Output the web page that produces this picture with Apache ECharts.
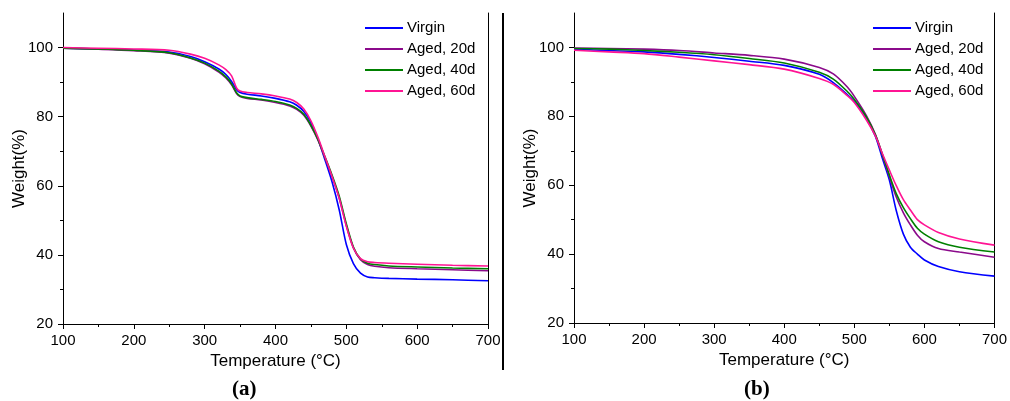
<!DOCTYPE html>
<html><head><meta charset="utf-8">
<script src="https://cdn.jsdelivr.net/npm/echarts@6/dist/echarts.min.js"></script>
<style>html,body{margin:0;padding:0;background:#fff}#c{width:1010px;height:401px}</style>
</head><body><div id="c"></div>
<script>
// ---- data (a) ----
const tempA = [100,150,200,250,280,300,320,330,338,345,350,360,380,400,420,430,440,450,460,470,480,490,500,510,520,530,540,560,600,650,700];
const virginA = [99.8,99.6,99.3,98.7,97.4,95.9,93.8,92.2,90.2,87.8,87.0,86.5,86.0,85.3,84.3,83.3,81.5,78.3,73.5,67.4,61.0,53.0,43.0,37.5,34.7,33.6,33.4,33.2,33.0,32.8,32.5];
const aged20A = [99.8,99.5,99.1,98.4,96.9,95.3,92.9,91.2,89.2,86.7,85.8,85.3,84.8,84.1,83.1,82.1,80.4,77.3,73.2,68.0,62.6,56.4,48.5,42.0,38.6,37.2,36.7,36.3,36.0,35.7,35.4];
const aged40A = [99.8,99.6,99.2,98.5,97.0,95.5,93.2,91.5,89.5,86.9,86.0,85.5,85.0,84.4,83.4,82.4,80.7,77.5,73.4,68.3,63.0,57.0,49.0,42.3,38.8,37.6,37.2,36.8,36.5,36.2,36.0];
const aged60A = [100,99.8,99.6,99.2,98.1,96.9,95.0,93.6,91.8,88.3,87.4,87.0,86.6,86.0,85.1,84.1,82.2,78.8,74.0,68.3,62.6,56.4,48.3,42.0,38.9,38.0,37.8,37.6,37.3,37.0,36.8];
// ---- data (b) ----
const tempB = [100,150,200,250,300,350,400,450,470,490,500,517,530,540,550,560,570,580,590,600,620,650,700];
const virginB = [99.5,99.1,98.7,98.0,97.1,96.0,94.8,92.2,89.8,86.3,84.3,79.5,74.2,67.8,61.5,52.5,45.8,42.0,40.0,38.3,36.4,34.9,33.6];
const aged20B = [99.8,99.7,99.5,99.1,98.4,97.7,96.6,94.2,92.3,88.5,85.8,80.3,74.8,68.8,62.5,56.5,52.0,48.5,45.5,43.6,41.6,40.6,39.1];
const aged40B = [99.7,99.5,99.1,98.6,97.9,96.8,95.5,92.8,90.8,87.2,84.9,79.9,74.6,69.0,63.0,57.5,53.5,50.3,47.5,45.8,43.6,42.0,40.6];
const aged60B = [99.2,98.7,98.2,97.2,96.1,95.0,93.7,91.0,89.3,86.0,84.0,79.0,74.3,69.2,64.4,59.8,55.8,52.8,50.0,48.5,46.3,44.4,42.6];
const seriesNames = ['Virgin','Aged, 20d','Aged, 40d','Aged, 60d'];
const colors = ['#0000ff','#8b0a8b','#008000','#ff1493'];
const yTicks = [20,40,60,80,100];

const FONT = 'Liberation Sans, Arial, sans-serif';
const zip = (xs, ys) => xs.map((x,i)=>[x, ys[i]]);

function xAxis(gi){
  return {type:'value', gridIndex:gi, min:100, max:700, interval:100,
    name:'Temperature (°C)', nameLocation:'middle', nameGap:27,
    nameTextStyle:{fontFamily:FONT, fontSize:17, color:'#000'},
    axisLine:{show:true, lineStyle:{color:'#000', width:1}},
    axisTick:{show:true, length:5, lineStyle:{color:'#000'}},
    minorTick:{show:true, splitNumber:2, length:3, lineStyle:{color:'#000'}},
    axisLabel:{fontFamily:FONT, fontSize:15, color:'#000', margin:9},
    splitLine:{show:false}};
}
function yAxisLeft(gi){
  return {type:'value', gridIndex:gi, min:20, max:110, interval:20, position:'left',
    name:'Weight(%)', nameLocation:'middle', nameGap:35, nameRotate:90, nameMoveOverlap:false,
    nameTextStyle:{fontFamily:FONT, fontSize:17, color:'#000'},
    axisLine:{show:true, lineStyle:{color:'#000', width:1}},
    axisTick:{show:true, length:5, customValues:yTicks, lineStyle:{color:'#000'}},
    minorTick:{show:true, splitNumber:2, length:3, lineStyle:{color:'#000'}},
    axisLabel:{fontFamily:FONT, fontSize:15, color:'#000', margin:10, customValues:yTicks},
    splitLine:{show:false}};
}
function yAxisRight(gi){
  return {type:'value', gridIndex:gi, min:20, max:110, position:'right',
    axisLine:{show:true, lineStyle:{color:'#000', width:1}},
    axisTick:{show:false}, axisLabel:{show:false}, splitLine:{show:false}};
}
function mk(name, color, xs, ys, xi, yi){
  return {name, type:'line', xAxisIndex:xi, yAxisIndex:yi, data:zip(xs, ys),
    smooth:0.3, symbol:'none', lineStyle:{color, width:1.6}, itemStyle:{color}};
}
const dataA = [virginA, aged20A, aged40A, aged60A];
const dataB = [virginB, aged20B, aged40B, aged60B];
const series = [];
seriesNames.forEach((n,i)=>series.push(mk(n, colors[i], tempA, dataA[i], 0, 0)));
seriesNames.forEach((n,i)=>series.push(mk(n, colors[i], tempB, dataB[i], 1, 2)));

function legend(left){
  return {left, top:19, padding:0, orient:'vertical', icon:'rect', itemWidth:38, itemHeight:2, itemGap:3,
    textStyle:{fontFamily:FONT, fontSize:15, color:'#000', lineHeight:18, padding:[0,0,0,-1]},
    data:seriesNames, selectedMode:false};
}

const chart = echarts.init(document.getElementById('c'), null, {renderer:'canvas'});
chart.setOption({
  backgroundColor:'#fff',
  animation:false,
  grid:[{left:63, top:13, width:425, height:311, show:false},
        {left:574, top:13, width:421, height:310, show:false}],
  xAxis:[xAxis(0), xAxis(1)],
  yAxis:[yAxisLeft(0), yAxisRight(0), yAxisLeft(1), yAxisRight(1)],
  legend:[legend(365), legend(873)],
  title:[
    {text:'{p|(}{b|a}{p|)}', left:232, top:379, padding:0, textStyle:{rich:{p:{fontFamily:'Liberation Serif', fontSize:21, color:'#000'}, b:{fontFamily:'Liberation Serif', fontSize:21, fontWeight:'bold', color:'#000'}}}},
    {text:'{p|(}{b|b}{p|)}', left:744, top:379, padding:0, textStyle:{rich:{p:{fontFamily:'Liberation Serif', fontSize:21, color:'#000'}, b:{fontFamily:'Liberation Serif', fontSize:21, fontWeight:'bold', color:'#000'}}}}
  ],
  graphic:[{type:'line', shape:{x1:503, y1:13, x2:503, y2:370}, style:{stroke:'#000', lineWidth:2}}],
  series
});
</script></body></html>
